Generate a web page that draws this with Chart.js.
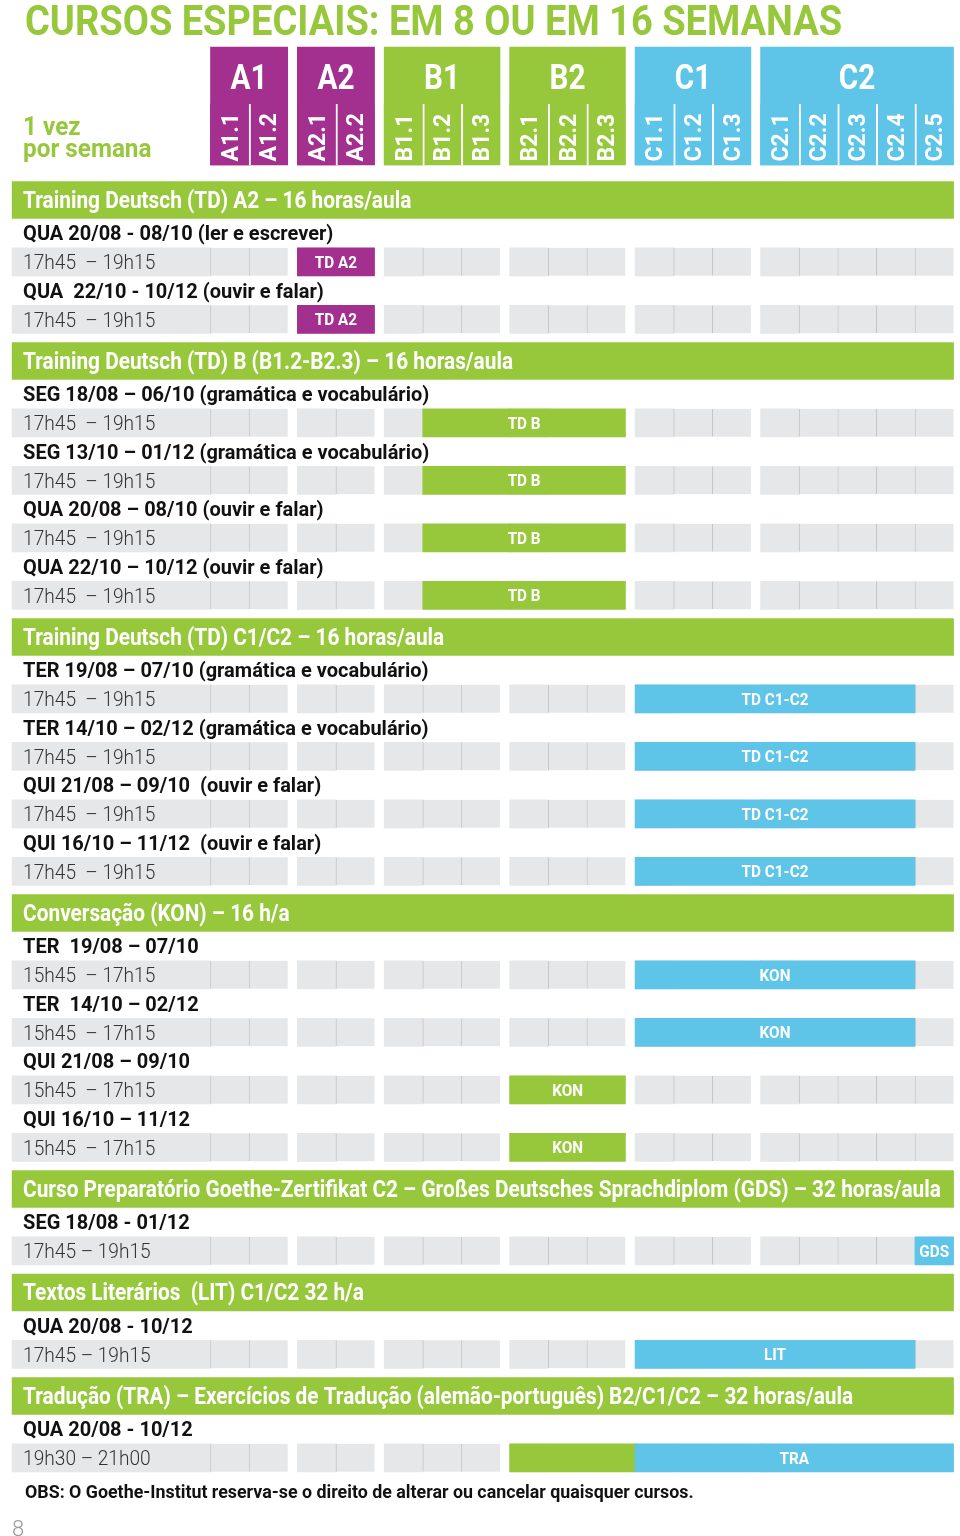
<!DOCTYPE html>
<html>
<head>
<meta charset="utf-8">
<title>Cursos especiais</title>
<script src="https://cdn.jsdelivr.net/npm/chart.js@4/dist/chart.umd.min.js"></script>
<style>
  html, body { margin: 0; padding: 0; background: #fff; }
  canvas { display: block; }
</style>
</head>
<body>
<canvas id="cursos" width="960" height="1536"></canvas>
<script>
// niveis //
const groups = ['A1', 'A2', 'B1', 'B2', 'C1', 'C2'];
const levels = ['A1.1', 'A1.2', 'A2.1', 'A2.2', 'B1.1', 'B1.2', 'B1.3', 'B2.1', 'B2.2', 'B2.3',
                'C1.1', 'C1.2', 'C1.3', 'C2.1', 'C2.2', 'C2.3', 'C2.4', 'C2.5'];
const levelGroup = [0, 0, 1, 1, 2, 2, 2, 3, 3, 3, 4, 4, 4, 5, 5, 5, 5, 5];
const groupColors = ['#a3308e', '#a3308e', '#97c83c', '#97c83c', '#5ec4e8', '#5ec4e8'];

// secoes //
const sectionTitles = [
  'Training Deutsch (TD) A2 – 16 horas/aula',
  'Training Deutsch (TD) B (B1.2-B2.3) – 16 horas/aula',
  'Training Deutsch (TD) C1/C2 – 16 horas/aula',
  'Conversação (KON) – 16 h/a',
  'Curso Preparatório Goethe-Zertifikat C2 – Großes Deutsches Sprachdiplom (GDS) – 32 horas/aula',
  'Textos Literários  (LIT) C1/C2 32 h/a',
  'Tradução (TRA) – Exercícios de Tradução (alemão-português) B2/C1/C2 – 32 horas/aula'
];

// turmas //
const slotSection = [0, 0, 1, 1, 1, 1, 2, 2, 2, 2, 3, 3, 3, 3, 4, 5, 6];
const slotDates = [
  'QUA 20/08 - 08/10 (ler e escrever)',
  'QUA  22/10 - 10/12 (ouvir e falar)',
  'SEG 18/08 – 06/10 (gramática e vocabulário)',
  'SEG 13/10 – 01/12 (gramática e vocabulário)',
  'QUA 20/08 – 08/10 (ouvir e falar)',
  'QUA 22/10 – 10/12 (ouvir e falar)',
  'TER 19/08 – 07/10 (gramática e vocabulário)',
  'TER 14/10 – 02/12 (gramática e vocabulário)',
  'QUI 21/08 – 09/10  (ouvir e falar)',
  'QUI 16/10 – 11/12  (ouvir e falar)',
  'TER  19/08 – 07/10',
  'TER  14/10 – 02/12',
  'QUI 21/08 – 09/10',
  'QUI 16/10 – 11/12',
  'SEG 18/08 - 01/12',
  'QUA 20/08 - 10/12',
  'QUA 20/08 - 10/12'
];
const slotTimes = [
  '17h45  – 19h15', '17h45  – 19h15',
  '17h45  – 19h15', '17h45  – 19h15', '17h45  – 19h15', '17h45  – 19h15',
  '17h45  – 19h15', '17h45  – 19h15', '17h45  – 19h15', '17h45  – 19h15',
  '15h45  – 17h15', '15h45  – 17h15', '15h45  – 17h15', '15h45  – 17h15',
  '17h45 – 19h15', '17h45 – 19h15', '19h30 – 21h00'
];
const courseLabels = ['TD A2', 'TD A2', 'TD B', 'TD B', 'TD B', 'TD B',
  'TD C1-C2', 'TD C1-C2', 'TD C1-C2', 'TD C1-C2', 'KON', 'KON', 'KON', 'KON', 'GDS', 'LIT', 'TRA'];
const courseFrom = ['A2.1', 'A2.1', 'B1.2', 'B1.2', 'B1.2', 'B1.2',
  'C1.1', 'C1.1', 'C1.1', 'C1.1', 'C1.1', 'C1.1', 'B2.1', 'B2.1', 'C2.5', 'C1.1', 'B2.1'];
const courseTo = ['A2.2', 'A2.2', 'B2.3', 'B2.3', 'B2.3', 'B2.3',
  'C2.4', 'C2.4', 'C2.4', 'C2.4', 'C2.4', 'C2.4', 'B2.3', 'B2.3', 'C2.5', 'C2.4', 'C2.5'];
const labelFrom = ['A2.1', 'A2.1', 'B1.2', 'B1.2', 'B1.2', 'B1.2',
  'C1.1', 'C1.1', 'C1.1', 'C1.1', 'C1.1', 'C1.1', 'B2.1', 'B2.1', 'C2.5', 'C1.1', 'C1.1'];

const titleText = 'CURSOS ESPECIAIS: EM 8 OU EM 16 SEMANAS';
const introText = ['1 vez', 'por semana'];
const noteText = 'OBS: O Goethe-Institut reserva-se o direito de alterar ou cancelar quaisquer cursos.';
const pageNumber = '8';

// layout //
const GREEN = '#97c83c';
const GREY = '#e6e7e8';
const GAP = 0.25;            // espaco entre grupos de niveis
const LABEL_START = -5.14;   // inicio da faixa cinza com o horario
const BAND_GAP = 1.45;
const BAND_TO_DATE = 1.15;
const HEAD_POS = -3.27;
const SUB_POS = -2.28;
const FONT = 'Roboto, "Liberation Sans", sans-serif';

const xOf = k => k + levelGroup[k] * GAP;
const lastX = xOf(levels.length - 1) + 1;

const bandPos = [], datePos = [], slotPos = [];
let last = -BAND_GAP;
sectionTitles.forEach((t, s) => {
  const band = last + BAND_GAP;
  bandPos.push(band);
  let d = band + BAND_TO_DATE;
  slotSection.forEach((sec, i) => {
    if (sec !== s) return;
    datePos[i] = d;
    slotPos[i] = d + 1;
    last = d + 1;
    d += 2;
  });
});

const courseData = [];
courseLabels.forEach((lab, i) => {
  const a = levels.indexOf(courseFrom[i]), b = levels.indexOf(courseTo[i]);
  for (let g = levelGroup[a]; g <= levelGroup[b]; g++) {
    const s = g === levelGroup[a] ? xOf(a) : xOf(levelGroup.indexOf(g));
    const e = g === levelGroup[b] ? xOf(b) + 1 : xOf(levelGroup.indexOf(g + 1));
    courseData.push({ x: [s, e], y: slotPos[i], color: groupColors[g] });
  }
});

const cellData = [];
slotPos.forEach(p => {
  cellData.push({ x: [LABEL_START, 0], y: p, sep: false });
  levels.forEach((lv, k) => {
    const first = k > 0 && levelGroup[k] !== levelGroup[k - 1];
    cellData.push({ x: [xOf(k), xOf(k) + 1], y: p, sep: !first });
  });
});

const bandData = bandPos.map(p => ({ x: [LABEL_START, lastX], y: p }));

const headData = groups.map((g, gi) => {
  const a = levelGroup.indexOf(gi), b = levelGroup.lastIndexOf(gi);
  return { x: [xOf(a), xOf(b) + 1], y: HEAD_POS, color: groupColors[gi] };
});
const subData = levels.map((lv, k) => ({
  x: [xOf(k), xOf(k) + 1], y: SUB_POS, color: groupColors[levelGroup[k]],
  sep: k > 0 && levelGroup[k] === levelGroup[k - 1]
}));

function txt(ctx, str, x, y, font, color, align, sx) {
  ctx.save();
  ctx.font = font;
  ctx.fillStyle = color;
  ctx.textAlign = align || 'left';
  ctx.textBaseline = 'alphabetic';
  ctx.translate(x, y);
  ctx.scale(sx || 1, 1);
  ctx.fillText(str, 0, 0);
  ctx.restore();
}

const textos = {
  id: 'textos',
  afterDatasetsDraw(chart) {
    const { ctx, scales: { x, y } } = chart;
    const px = v => x.getPixelForValue(v), py = v => y.getPixelForValue(v);
    const left = px(LABEL_START) + 11;

    txt(ctx, titleText, 25, 35, 'bold 42px ' + FONT, GREEN, 'left', 0.905);

    const headTop = py(HEAD_POS) - 59;
    headData.forEach((h, gi) => {
      txt(ctx, groups[gi], (px(h.x[0]) + px(h.x[1])) / 2, headTop + 42, 'bold 35px ' + FONT, '#fff', 'center', 0.85);
    });
    levels.forEach((lv, k) => {
      ctx.save();
      ctx.translate(px(xOf(k) + 0.5) + 8, py(SUB_POS) + 27);
      ctx.rotate(-Math.PI / 2);
      ctx.font = 'bold 23px ' + FONT;
      ctx.fillStyle = '#fff';
      ctx.textAlign = 'left';
      ctx.fillText(lv, 0, 0);
      ctx.restore();
    });
    txt(ctx, introText[0], left, 135, 'bold 25px ' + FONT, GREEN, 'left', 0.97);
    txt(ctx, introText[1], left, 157, 'bold 25px ' + FONT, GREEN, 'left', 0.97);

    sectionTitles.forEach((t, s) => {
      txt(ctx, t, left, py(bandPos[s]) + 8, 'bold 23px ' + FONT, '#fff', 'left', 0.905);
    });
    slotDates.forEach((d, i) => {
      txt(ctx, d, left, py(datePos[i]) + 7, 'bold 20px ' + FONT, '#111', 'left', 1.0);
      txt(ctx, slotTimes[i], left, py(slotPos[i]) + 7.5, '300 21px ' + FONT, '#333', 'left', 0.91);
      const cx = (px(xOf(levels.indexOf(labelFrom[i]))) + px(xOf(levels.indexOf(courseTo[i])) + 1)) / 2;
      txt(ctx, courseLabels[i], cx, py(slotPos[i]) + 6, 'bold 17px ' + FONT, '#fff', 'center', 0.9);
    });

    txt(ctx, noteText, 25, py(last) + 40, 'bold 18px ' + FONT, '#111', 'left', 0.99);
    txt(ctx, pageNumber, 12, py(last) + 78, '300 22px ' + FONT, '#999', 'left', 1);
  }
};

const barOpts = { grouped: false, borderSkipped: false };

new Chart(document.getElementById('cursos'), {
  type: 'bar',
  data: {
    datasets: [
      Object.assign({ label: 'cursos', data: courseData, barThickness: 28,
        backgroundColor: c => c.raw ? c.raw.color : GREEN, order: 0 }, barOpts),
      Object.assign({ label: 'subniveis', data: subData, barThickness: 61,
        backgroundColor: c => c.raw ? c.raw.color : GREEN, borderColor: '#fff',
        borderWidth: c => (c.raw && c.raw.sep) ? { left: 2, top: 0, right: 0, bottom: 0 } : 0, order: 1 }, barOpts),
      Object.assign({ label: 'niveis', data: headData, barThickness: 118,
        backgroundColor: c => c.raw ? c.raw.color : GREEN, order: 2 }, barOpts),
      Object.assign({ label: 'secoes', data: bandData, barThickness: 37,
        backgroundColor: GREEN, order: 2 }, barOpts),
      Object.assign({ label: 'celulas', data: cellData, barThickness: 28,
        backgroundColor: GREY, borderColor: '#c4c5c7',
        borderWidth: c => (c.raw && c.raw.sep) ? { left: 1, top: 0, right: 0, bottom: 0 } : 0, order: 3 }, barOpts)
    ]
  },
  options: {
    indexAxis: 'y',
    responsive: false,
    animation: false,
    events: [],
    layout: { padding: 0 },
    plugins: { legend: { display: false }, tooltip: { enabled: false }, title: { display: false } },
    scales: {
      x: { type: 'linear', display: false, min: -5.4534, max: 19.4171, bounds: 'data', offset: false },
      y: { type: 'linear', display: false, reverse: true, min: -6.9565, max: 46.4696, bounds: 'data', offset: false }
    }
  },
  plugins: [textos]
});
</script>
</body>
</html>
